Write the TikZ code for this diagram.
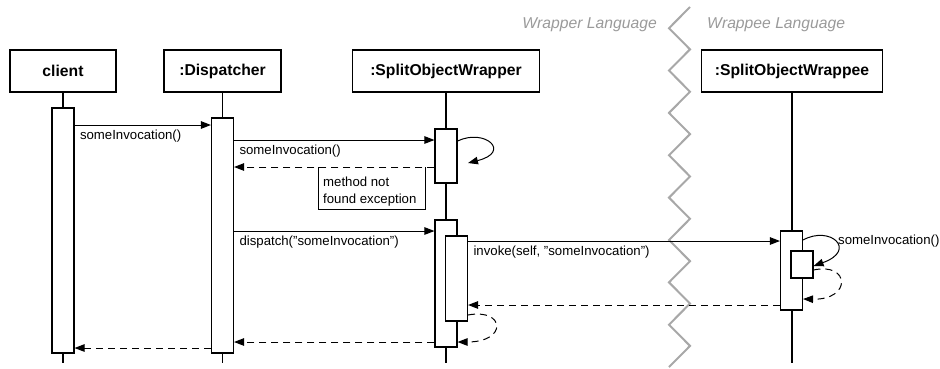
\documentclass[tikz,border=0pt]{standalone}
\usepackage{fontspec}
\setmainfont{Liberation Sans}
\usepackage{xcolor}
\usetikzlibrary{arrows.meta, calc}
\definecolor{seqBorder}{HTML}{000000}
\definecolor{langText}{HTML}{9A9A9A}
\definecolor{zigColor}{HTML}{A8A8A8}

\begin{document}
\begin{tikzpicture}[
        x=1pt, y=-1pt,
        objbox/.style={
            draw=seqBorder,
            line width=1.1pt,
            minimum width=#1,
            minimum height=42pt,
            inner sep=0pt,
            font=\fontsize{15.7pt}{18pt}\selectfont\bfseries
        },
        actbar/.style={
            draw=seqBorder,
            fill=white,
            line width=1.1pt,
            minimum width=22pt,
            minimum height=#1,
            inner sep=0pt
        },
        lifeline/.style={line width=1.2pt, draw=seqBorder},
        msg/.style={
            -{Triangle[length=10pt,width=7.5pt]},
            line width=1pt,
            draw=seqBorder
        },
        ret/.style={msg, dash pattern=on 7pt off 5pt},
        lbl/.style={font=\fontsize{13.2pt}{17pt}\selectfont, inner sep=0pt},
        lang/.style={font=\fontsize{15.7pt}{18pt}\selectfont\itshape, text=langText, inner sep=0pt},
        zigline/.style={draw=zigColor, line width=2pt}
    ]
    \useasboundingbox (0,0) rectangle (940,368);

    % language border
    \draw[zigline] (690,7) \foreach \i in {1,...,17} { -- ({690-21*mod(\i,2)}, {7+21.18*\i}) };
    \node[lang, anchor=east] (wrapperLang) at (657,25) {Wrapper Language};
    \node[lang, anchor=west] (wrappeeLang) at (707,25) {Wrappee Language};

    % objects
    \node[objbox=106pt] (client) at (63,71) {client};
    \node[objbox=117pt] (disp) at (222.5,71) {:Dispatcher};
    \node[objbox=187pt] (wrapper) at (446,71) {:SplitObjectWrapper};
    \node[objbox=181pt] (wrappee) at (792,71) {:SplitObjectWrappee};

    \draw[lifeline] (client.south) -- (client.south |- 0,363);
    \draw[lifeline] (disp.south) -- (disp.south |- 0,363);
    \draw[lifeline] (wrapper.south) -- (wrapper.south |- 0,363);
    \draw[lifeline] (wrappee.south) -- (wrappee.south |- 0,363);

    % activations
    \node[actbar=245pt] (clientAct) at (63,230.5) {};
    \node[actbar=235pt] (dispAct) at (222.5,235.5) {};
    \node[actbar=54pt] (wrapAct1) at (446,156) {};
    \node[actbar=127pt] (wrapAct2) at (446,283.5) {};
    \node[actbar=85pt] (wrapAct3) at (456.5,278.5) {};
    \node[actbar=79pt] (weeAct1) at (791.5,270.5) {};
    \node[actbar=27pt] (weeAct2) at (802,264.5) {};

    % first call, method missing
    \draw[msg] (clientAct.east |- 0,125) -- (dispAct.west |- 0,125)
        node[lbl, pos=0, anchor=north west, xshift=5pt, yshift=-4pt] {someInvocation()};
    \draw[msg] (dispAct.east |- 0,140) -- (wrapAct1.west |- 0,140)
        node[lbl, pos=0, anchor=north west, xshift=5pt, yshift=-4pt] {someInvocation()};
    \coordinate (loopA) at (468,163);
    \draw[msg] (wrapAct1.east |- 0,141) .. controls (485,128) and (512,152) .. (loopA);

    \node[anchor=north west, minimum width=107pt, minimum height=42pt, inner sep=0pt] (note) at (318,167) {};
    \node[lbl, anchor=north west, align=left] (noteText) at ($(note.north west)+(5,10)$) {method not\\found exception};
    \draw[line width=1pt] (note.north west) -- (note.south west) -- (note.south east) -- (note.north east);
    \draw[ret] (wrapAct1.west |- 0,167) -- (dispAct.east |- 0,167);

    % dispatch to the wrappee
    \draw[msg] (dispAct.east |- 0,231) -- (wrapAct2.west |- 0,231)
        node[lbl, pos=0, anchor=north west, xshift=5pt, yshift=-4pt] {dispatch("someInvocation")};
    \draw[msg] (wrapAct3.east |- 0,241) -- (weeAct1.west |- 0,241)
        node[lbl, pos=0, anchor=north west, xshift=5pt, yshift=-4pt] {invoke(self, "someInvocation")};

    \draw[msg] (weeAct1.east |- 0,240) .. controls (830,225) and (858,250) .. (weeAct2.east |- 0,266);
    \node[lbl, anchor=west] (selfCall) at (838,241) {someInvocation()};
    \draw[ret] (weeAct2.east |- 0,270) .. controls (850,262) and (852,300) .. (weeAct1.east |- 0,299);

    % returns
    \draw[ret] (weeAct1.west |- 0,305) -- (wrapAct3.east |- 0,305);
    \draw[ret] (wrapAct3.east |- 0,315) .. controls (505,308) and (508,342) .. (wrapAct2.east |- 0,342);
    \draw[ret] (wrapAct2.west |- 0,342) -- (dispAct.east |- 0,342);
    \draw[ret] (dispAct.west |- 0,348) -- (clientAct.east |- 0,348);

\end{tikzpicture}
\end{document}
